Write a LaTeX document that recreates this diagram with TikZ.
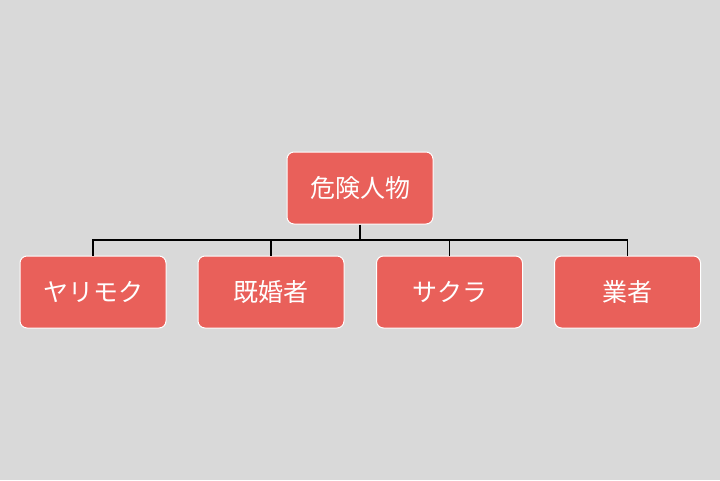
\documentclass[tikz,border=0pt]{standalone}
\usepackage{fontspec}
\newfontfamily\cjk{Noto Sans CJK JP}
\definecolor{boxred}{HTML}{E9605A}
\definecolor{bggray}{HTML}{D9D9D9}
\tikzset{
	box/.style={draw=white, line width=1pt, fill=boxred, rounded corners=7pt, minimum width=146pt, minimum height=72pt, text=white, font=\cjk\fontsize{25}{30}\selectfont},
	link/.style={draw=black, line width=1.5pt}
}
\begin{document}
\begin{tikzpicture}[x=1pt, y=-1pt]
	\fill[bggray] (0, 0) rectangle (720, 480);
	\useasboundingbox (0, 0) rectangle (720, 480);

	\draw (360, 188) 	node[box] 	(top) 		{危険人物};
	\draw (93, 292) 	node[box] 	(yari) 		{ヤリモク};
	\draw (271, 292) 	node[box] 	(kikon) 	{既婚者};
	\draw (449.5, 292) 	node[box] 	(sakura) 	{サクラ};
	\draw (627.5, 292) 	node[box] 	(gyosha) 	{業者};
	\coordinate (bus) at (360, 240);

	\draw[link] (top) -- (bus);
	\draw[link] (yari) |- (bus);
	\draw[link] (kikon) |- (bus);
	\draw[link] (sakura) |- (bus);
	\draw[link] (gyosha) |- (bus);
\end{tikzpicture}
\end{document}
